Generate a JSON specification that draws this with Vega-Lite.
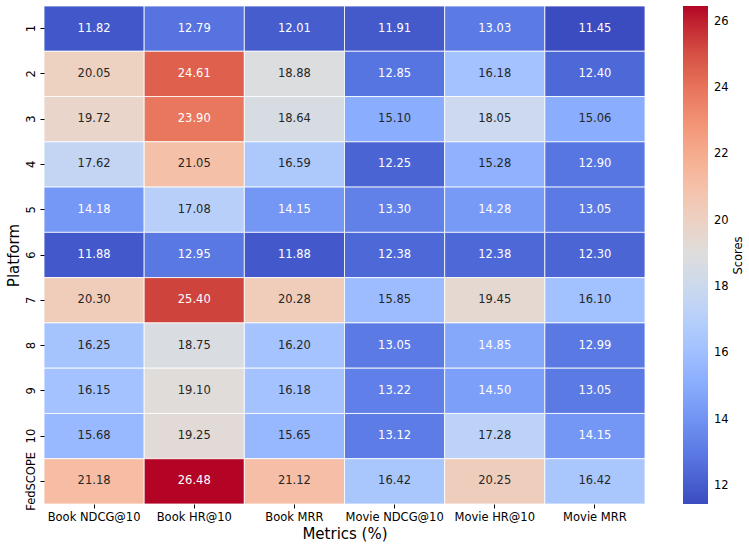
{
  "$schema": "https://vega.github.io/schema/vega-lite/v6.json",
  "autosize": {"type": "none"},
  "width": 601,
  "height": 498,
  "padding": {"left": 44, "top": 6, "right": 104, "bottom": 45},
  "background": "white",
  "config": {
    "font": "DejaVu Sans",
    "view": {"stroke": null},
    "axis": {"labelFont": "DejaVu Sans", "titleFont": "DejaVu Sans", "labelColor": "#000000", "titleColor": "#000000", "tickColor": "#000000", "domain": false, "grid": false}
  },
  "data": {"values": [
    {"platform": "1", "metric": "Book NDCG@10", "value": 11.82},
    {"platform": "1", "metric": "Book HR@10", "value": 12.79},
    {"platform": "1", "metric": "Book MRR", "value": 12.01},
    {"platform": "1", "metric": "Movie NDCG@10", "value": 11.91},
    {"platform": "1", "metric": "Movie HR@10", "value": 13.03},
    {"platform": "1", "metric": "Movie MRR", "value": 11.45},
    {"platform": "2", "metric": "Book NDCG@10", "value": 20.05},
    {"platform": "2", "metric": "Book HR@10", "value": 24.61},
    {"platform": "2", "metric": "Book MRR", "value": 18.88},
    {"platform": "2", "metric": "Movie NDCG@10", "value": 12.85},
    {"platform": "2", "metric": "Movie HR@10", "value": 16.18},
    {"platform": "2", "metric": "Movie MRR", "value": 12.40},
    {"platform": "3", "metric": "Book NDCG@10", "value": 19.72},
    {"platform": "3", "metric": "Book HR@10", "value": 23.90},
    {"platform": "3", "metric": "Book MRR", "value": 18.64},
    {"platform": "3", "metric": "Movie NDCG@10", "value": 15.10},
    {"platform": "3", "metric": "Movie HR@10", "value": 18.05},
    {"platform": "3", "metric": "Movie MRR", "value": 15.06},
    {"platform": "4", "metric": "Book NDCG@10", "value": 17.62},
    {"platform": "4", "metric": "Book HR@10", "value": 21.05},
    {"platform": "4", "metric": "Book MRR", "value": 16.59},
    {"platform": "4", "metric": "Movie NDCG@10", "value": 12.25},
    {"platform": "4", "metric": "Movie HR@10", "value": 15.28},
    {"platform": "4", "metric": "Movie MRR", "value": 12.90},
    {"platform": "5", "metric": "Book NDCG@10", "value": 14.18},
    {"platform": "5", "metric": "Book HR@10", "value": 17.08},
    {"platform": "5", "metric": "Book MRR", "value": 14.15},
    {"platform": "5", "metric": "Movie NDCG@10", "value": 13.30},
    {"platform": "5", "metric": "Movie HR@10", "value": 14.28},
    {"platform": "5", "metric": "Movie MRR", "value": 13.05},
    {"platform": "6", "metric": "Book NDCG@10", "value": 11.88},
    {"platform": "6", "metric": "Book HR@10", "value": 12.95},
    {"platform": "6", "metric": "Book MRR", "value": 11.88},
    {"platform": "6", "metric": "Movie NDCG@10", "value": 12.38},
    {"platform": "6", "metric": "Movie HR@10", "value": 12.38},
    {"platform": "6", "metric": "Movie MRR", "value": 12.30},
    {"platform": "7", "metric": "Book NDCG@10", "value": 20.30},
    {"platform": "7", "metric": "Book HR@10", "value": 25.40},
    {"platform": "7", "metric": "Book MRR", "value": 20.28},
    {"platform": "7", "metric": "Movie NDCG@10", "value": 15.85},
    {"platform": "7", "metric": "Movie HR@10", "value": 19.45},
    {"platform": "7", "metric": "Movie MRR", "value": 16.10},
    {"platform": "8", "metric": "Book NDCG@10", "value": 16.25},
    {"platform": "8", "metric": "Book HR@10", "value": 18.75},
    {"platform": "8", "metric": "Book MRR", "value": 16.20},
    {"platform": "8", "metric": "Movie NDCG@10", "value": 13.05},
    {"platform": "8", "metric": "Movie HR@10", "value": 14.85},
    {"platform": "8", "metric": "Movie MRR", "value": 12.99},
    {"platform": "9", "metric": "Book NDCG@10", "value": 16.15},
    {"platform": "9", "metric": "Book HR@10", "value": 19.10},
    {"platform": "9", "metric": "Book MRR", "value": 16.18},
    {"platform": "9", "metric": "Movie NDCG@10", "value": 13.22},
    {"platform": "9", "metric": "Movie HR@10", "value": 14.50},
    {"platform": "9", "metric": "Movie MRR", "value": 13.05},
    {"platform": "10", "metric": "Book NDCG@10", "value": 15.68},
    {"platform": "10", "metric": "Book HR@10", "value": 19.25},
    {"platform": "10", "metric": "Book MRR", "value": 15.65},
    {"platform": "10", "metric": "Movie NDCG@10", "value": 13.12},
    {"platform": "10", "metric": "Movie HR@10", "value": 17.28},
    {"platform": "10", "metric": "Movie MRR", "value": 14.15},
    {"platform": "FedSCOPE", "metric": "Book NDCG@10", "value": 21.18},
    {"platform": "FedSCOPE", "metric": "Book HR@10", "value": 26.48},
    {"platform": "FedSCOPE", "metric": "Book MRR", "value": 21.12},
    {"platform": "FedSCOPE", "metric": "Movie NDCG@10", "value": 16.42},
    {"platform": "FedSCOPE", "metric": "Movie HR@10", "value": 20.25},
    {"platform": "FedSCOPE", "metric": "Movie MRR", "value": 16.42}
  ]},
  "encoding": {
    "x": {
      "field": "metric", "type": "nominal",
      "sort": ["Book NDCG@10", "Book HR@10", "Book MRR", "Movie NDCG@10", "Movie HR@10", "Movie MRR"],
      "scale": {"paddingInner": 0, "paddingOuter": 0},
      "axis": {"title": "Metrics (%)", "titleFontSize": 15, "titleFontWeight": "normal", "titlePadding": 4, "labelFontSize": 11.5, "labelAngle": 0, "tickSize": 4, "labelPadding": 3}
    }
  },
  "layer": [
    {
      "encoding": {
        "y": {
          "field": "platform", "type": "nominal",
          "sort": ["1", "2", "3", "4", "5", "6", "7", "8", "9", "10", "FedSCOPE"],
          "scale": {"paddingInner": 0, "paddingOuter": 0},
          "axis": {"title": "Platform", "titleFontSize": 15, "titleFontWeight": "normal", "titlePadding": 4, "labelFontSize": 11.5, "labelAngle": 270, "labelAlign": "center", "labelBaseline": "bottom", "tickSize": 4, "labelPadding": 4}
        }
      },
      "layer": [
        {
          "mark": {"type": "rect", "stroke": "white", "strokeWidth": 0.8},
          "encoding": {
            "color": {
              "field": "value", "type": "quantitative",
              "scale": {
                "domain": [11.45, 12.3894, 13.3288, 14.2681, 15.2075, 16.1469, 17.0863, 18.0256, 18.965, 19.9044, 20.8438, 21.7831, 22.7225, 23.6619, 24.6013, 25.5406, 26.48],
                "range": ["#3b4cc0", "#4d68d7", "#6282ea", "#779af7", "#8db0fe", "#a3c2ff", "#b8d0f9", "#ccd9ee", "#dddddd", "#ecd3c5", "#f5c4ad", "#f7b194", "#f49a7b", "#ec7f63", "#de604d", "#cb3e38", "#b40426"],
                "interpolate": "rgb"
              },
              "legend": {
                "title": null,
                "labelFontSize": 11.5,
                "labelColor": "#000000",
                "labelOffset": 6,
                "gradientLength": 498,
                "gradientThickness": 25,
                "gradientStrokeWidth": 0,
                "values": [12, 14, 16, 18, 20, 22, 24, 26],
                "orient": "none",
                "legendX": 639,
                "legendY": 0,
                "direction": "vertical"
              }
            }
          }
        },
        {
          "mark": {"type": "text", "fontSize": 11.5, "font": "DejaVu Sans"},
          "encoding": {
            "text": {"field": "value", "type": "quantitative", "format": ".2f"},
            "color": {
              "condition": {"test": "datum.value < 15 || datum.value > 23", "value": "#ffffff"},
              "value": "#262626"
            }
          }
        }
      ]
    },
    {
      "mark": {"type": "tick", "opacity": 0},
      "encoding": {
        "y": {
          "field": "value", "type": "quantitative",
          "axis": {"orient": "right", "title": "Scores", "labels": false, "ticks": false, "domain": false, "grid": false, "offset": 0, "titleAngle": 270, "titleX": 93, "titleY": 249, "titleAlign": "center", "titleBaseline": "middle", "titleFontSize": 11.5, "titleFontWeight": "normal", "titleColor": "#000000"}
        }
      }
    }
  ],
  "resolve": {"scale": {"y": "independent"}, "axis": {"y": "independent"}}
}
